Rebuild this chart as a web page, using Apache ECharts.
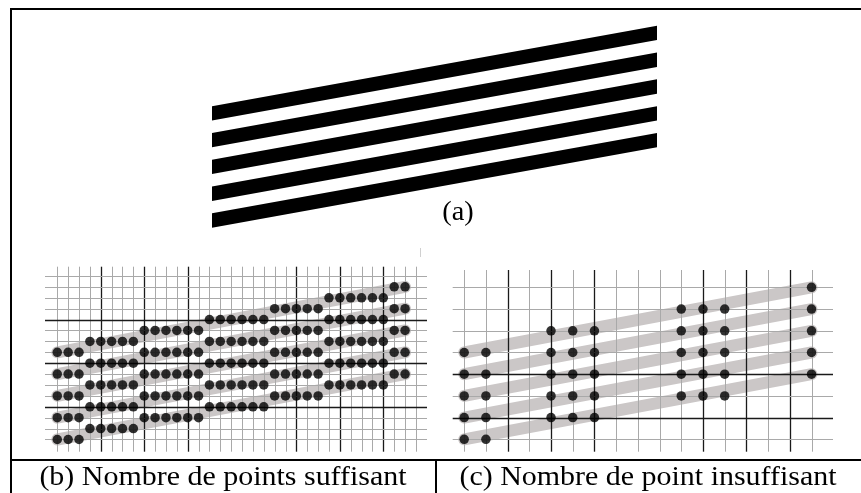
<!DOCTYPE html>
<html><head><meta charset="utf-8">
<script src="https://cdn.jsdelivr.net/npm/echarts@6/dist/echarts.min.js"></script>
<style>html,body{margin:0;padding:0;background:#fff}#c{width:861px;height:493px}</style>
</head><body><div id="c"></div>
<script>
// ---------- (a) continuous stripes ----------
const stripeXA = [0, 32];                 // left / right end of stripes
const stripeLowLeftA = [0, 2, 4, 6, 8];   // lower edge at left end
const stripeLowRightA = [6, 8, 10, 12, 14]; // lower edge at right end
const stripeThickA = 1.07;                // vertical thickness

// ---------- (b) fine sampling grid ----------
const bCols = [0,1,2,3,4,5,6,7,8,9,10,11,12,13,14,15,16,17,18,19,20,21,22,23,24,25,26,27,28,29,30,31,32,33];
const bRows = [0,1,2,3,4,5,6,7,8,9,10,11,12,13,14,15];
const bDarkCols = [4, 8, 12, 22, 26, 30];
const bDarkRows = [4, 8, 12];
const bGroupColStart = [0, 3, 8, 14, 20, 25, 31];
const bGroupColEnd   = [2, 7, 13, 19, 24, 30, 32];
const bGroupTopRow   = [7, 6, 5, 4, 3, 2, 1];
const bGroupRowCount = 5;
const bBandX = [0, 32];
const bBandLeftRow  = [7, 9, 11, 13, 15];
const bBandRightRow = [1, 3, 5, 7, 9];

// ---------- (c) coarse sampling grid ----------
const cCols = [0,1,2,3,4,5,6,7,8,9,10,11,12,13,14,15,16];
const cRows = [0,1,2,3,4,5,6,7];
const cDarkCols = [2, 4, 6, 11, 13, 15];
const cDarkRows = [4, 6];
const cGroupCols   = [[0, 1], [4, 5, 6], [10, 11, 12], [16]];
const cGroupTopRow = [3, 2, 1, 0];
const cGroupRowCount = 5;
const cBandX = [0, 16];
const cBandLeftRow  = [3, 4, 5, 6, 7];
const cBandRightRow = [0, 1, 2, 3, 4];

// ---------- captions ----------
const captionA = '(a)';
const captionB = '(b) Nombre de points suffisant';
const captionC = '(c) Nombre de point insuffisant';

// ---------- layout (axes extents) ----------
const extA = {x: [0, 32], y: [0, 15.2]};
const extB = {x: [-1.13, 34.02], y: [-0.85, 16.12]};
const extC = {x: [-0.53, 16.99], y: [-0.8, 7.57]};

const chart = echarts.init(document.getElementById('c'), null, {renderer: 'canvas'});

function gridLineData(cols, rows, darkCols, darkRows) {
  const d = [];
  cols.forEach(c => d.push([0, c, darkCols.includes(c) ? 1 : 0]));
  rows.forEach(r => d.push([1, r, darkRows.includes(r) ? 1 : 0]));
  return d;
}
function gridLineSeries(idx, ext, data) {
  return {
    type: 'custom', xAxisIndex: idx, yAxisIndex: idx, z: 2, silent: true,
    data: data,
    renderItem(params, api) {
      const kind = api.value(0), pos = api.value(1), dark = api.value(2);
      let p1, p2;
      if (kind === 0) { p1 = api.coord([pos, ext.y[0]]); p2 = api.coord([pos, ext.y[1]]); const x = Math.round(p1[0]) + 0.5; p1[0] = x; p2[0] = x; }
      else { p1 = api.coord([ext.x[0], pos]); p2 = api.coord([ext.x[1], pos]); const y = Math.round(p1[1]) + 0.5; p1[1] = y; p2[1] = y; }
      return {type: 'line', shape: {x1: p1[0], y1: p1[1], x2: p2[0], y2: p2[1]},
        style: {stroke: dark ? '#1a1a1a' : '#a9a9a9', lineWidth: dark ? 1.3 : 1}};
    }
  };
}
function bandSeries(idx, xs, left, right) {
  return left.map((l, k) => ({
    type: 'line', xAxisIndex: idx, yAxisIndex: idx, z: 1, silent: true, symbol: 'none',
    data: [[xs[0], l], [xs[1], right[k]]],
    lineStyle: {color: '#cbc7c7', width: 12, cap: 'round'}
  }));
}

const dotsB = [];
bGroupColStart.forEach((cs, g) => {
  for (let c = cs; c <= bGroupColEnd[g]; c++)
    for (let k = 0; k < bGroupRowCount; k++) dotsB.push([c, bGroupTopRow[g] + 2 * k]);
});
const dotsC = [];
cGroupCols.forEach((cols, g) => {
  cols.forEach(c => { for (let k = 0; k < cGroupRowCount; k++) dotsC.push([c, cGroupTopRow[g] + k]); });
});
const stripesA = stripeLowLeftA.map((l, k) => [stripeXA[0], stripeXA[1], l, stripeLowRightA[k], stripeThickA]);

const serif = '"Liberation Serif", "Times New Roman", serif';

chart.setOption({
  animation: false,
  backgroundColor: '#fff',
  grid: [
    {left: 212, top: 24, width: 445, height: 203.7},
    {left: 45, top: 266.7, width: 382, height: 185},
    {left: 452.7, top: 270, width: 380.3, height: 181.7}
  ],
  xAxis: [
    {type: 'value', gridIndex: 0, min: extA.x[0], max: extA.x[1], show: false},
    {type: 'value', gridIndex: 1, min: extB.x[0], max: extB.x[1], show: false},
    {type: 'value', gridIndex: 2, min: extC.x[0], max: extC.x[1], show: false}
  ],
  yAxis: [
    {type: 'value', gridIndex: 0, min: extA.y[0], max: extA.y[1], show: false},
    {type: 'value', gridIndex: 1, min: extB.y[0], max: extB.y[1], inverse: true, show: false},
    {type: 'value', gridIndex: 2, min: extC.y[0], max: extC.y[1], inverse: true, show: false}
  ],
  series: [
    {
      type: 'custom', xAxisIndex: 0, yAxisIndex: 0, silent: true, data: stripesA,
      renderItem(params, api) {
        const xl = api.value(0), xr = api.value(1), ll = api.value(2), lr = api.value(3), t = api.value(4);
        return {type: 'polygon', shape: {points: [api.coord([xl, ll]), api.coord([xr, lr]), api.coord([xr, lr + t]), api.coord([xl, ll + t])]},
          style: {fill: '#000'}};
      }
    },
    gridLineSeries(1, extB, gridLineData(bCols, bRows, bDarkCols, bDarkRows)),
    gridLineSeries(2, extC, gridLineData(cCols, cRows, cDarkCols, cDarkRows)),
    ...bandSeries(1, bBandX, bBandLeftRow, bBandRightRow),
    ...bandSeries(2, cBandX, cBandLeftRow, cBandRightRow),
    {type: 'scatter', xAxisIndex: 1, yAxisIndex: 1, z: 3, silent: true, symbol: 'circle', symbolSize: 9.5, itemStyle: {color: '#000'}, data: dotsB},
    {type: 'scatter', xAxisIndex: 2, yAxisIndex: 2, z: 3, silent: true, symbol: 'circle', symbolSize: 9.5, itemStyle: {color: '#000'}, data: dotsC}
  ],
  graphic: [
    {type: 'rect', shape: {x: 10, y: 8, width: 2, height: 485}, style: {fill: '#000'}},
    {type: 'rect', shape: {x: 10, y: 8, width: 851, height: 2}, style: {fill: '#000'}},
    {type: 'rect', shape: {x: 10, y: 459, width: 851, height: 2}, style: {fill: '#000'}},
    {type: 'rect', shape: {x: 435, y: 459, width: 2, height: 34}, style: {fill: '#000'}},
    {type: 'rect', shape: {x: 420, y: 248, width: 1, height: 9}, style: {fill: '#d0d0d0'}},
    {type: 'text', x: 458, y: 213, scaleX: 1.05, style: {text: captionA, x: 0, y: 0, font: '27px ' + serif, align: 'center', verticalAlign: 'middle', fill: '#000'}},
    {type: 'text', x: 223, y: 478, scaleX: 1.07, style: {text: captionB, x: 0, y: 0, font: '28px ' + serif, align: 'center', verticalAlign: 'middle', fill: '#000'}},
    {type: 'text', x: 648, y: 478, scaleX: 1.07, style: {text: captionC, x: 0, y: 0, font: '28px ' + serif, align: 'center', verticalAlign: 'middle', fill: '#000'}}
  ]
});
</script></body></html>
